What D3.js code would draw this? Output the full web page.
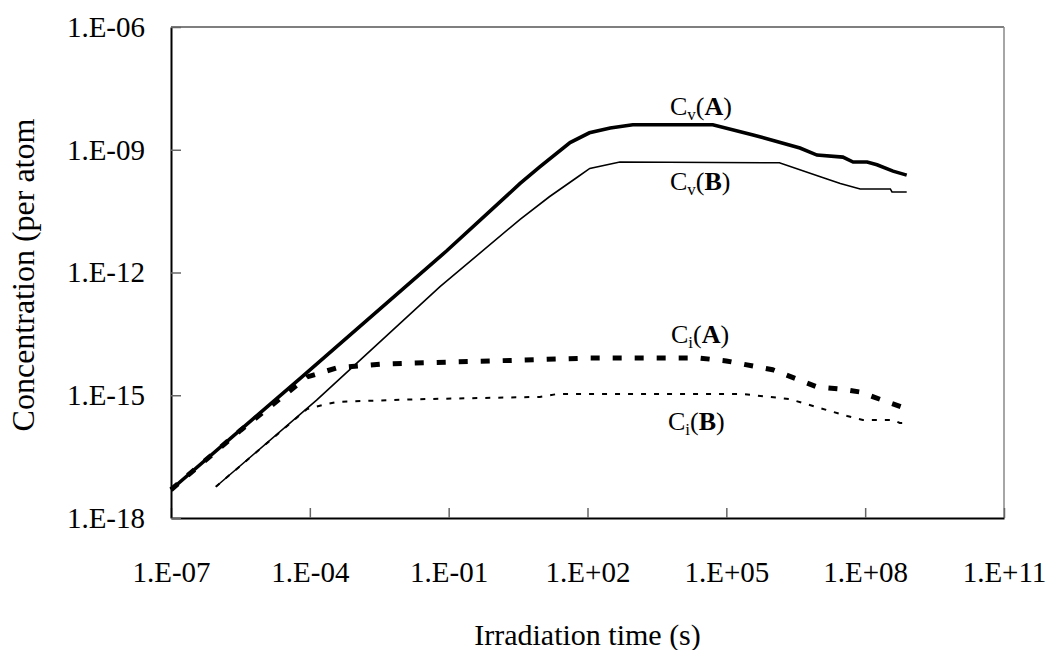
<!DOCTYPE html>
<html>
<head>
<meta charset="utf-8">
<script src="https://cdn.jsdelivr.net/npm/d3@7"></script>
<style>
  body { margin: 0; background: #fff; }
  svg text { font-family: "Liberation Serif", "Times New Roman", serif; fill: #000; }
  .axis text { font-size: 29px; }
  .axis .domain { stroke: #000; stroke-width: 2; }
  .axis .tick line { stroke: #666; stroke-width: 1.5; }
</style>
</head>
<body>
<div id="chart"></div>
<script>
// x ticks (time, s) and y ticks (concentration per atom)
var xTickValues = [1e-7, 1e-4, 1e-1, 1e2, 1e5, 1e8, 1e11];
var xTickLabels = ["1.E-07", "1.E-04", "1.E-01", "1.E+02", "1.E+05", "1.E+08", "1.E+11"];
var yTickValues = [1e-18, 1e-15, 1e-12, 1e-9, 1e-6];
var yTickLabels = ["1.E-18", "1.E-15", "1.E-12", "1.E-09", "1.E-06"];

// series: [time, concentration]
var cvA = [
  [1e-7, 4.9e-18], [6.2e-5, 2.6e-15], [9.1e-2, 3.4e-12], [3.5, 1.5e-10],
  [9.3, 3.8e-10], [42, 1.5e-9], [110, 2.6e-9], [310, 3.4e-9], [950, 4.1e-9],
  [5.1e4, 4.1e-9], [3.8e5, 2.3e-9], [3.9e6, 1.1e-9], [9.1e6, 7.4e-10],
  [3.3e7, 6.6e-10], [5.5e7, 5.0e-10], [1.1e8, 5.0e-10], [1.8e8, 4.3e-10],
  [4.0e8, 3.0e-10], [7.9e8, 2.4e-10]
];
var cvB = [
  [9.3e-7, 5.8e-18], [1.4e-4, 7.6e-16], [6.5e-2, 4.5e-13], [3.5, 2.0e-11],
  [15, 7.1e-11], [59, 2.1e-10], [112, 3.5e-10], [500, 5.0e-10], [1.4e6, 4.8e-10],
  [1.2e7, 2.1e-10], [2.9e7, 1.5e-10], [7.8e7, 1.1e-10], [3.5e8, 1.1e-10],
  [3.8e8, 9.3e-11], [7.9e8, 9.3e-11]
];
var ciA = [
  [1e-7, 4.9e-18], [3.2e-6, 1.4e-16], [8.7e-5, 2.8e-15], [3.9e-4, 4.7e-15],
  [3.8e-3, 5.8e-15], [0.11, 6.5e-15], [3.5, 7.2e-15], [100, 8.1e-15],
  [2.7e4, 8.1e-15], [1.0e5, 6.9e-15], [1.0e6, 4.2e-15], [9.1e6, 1.6e-15],
  [3.3e7, 1.4e-15], [7.8e7, 1.2e-15], [1.5e8, 9.1e-16], [7.1e8, 4.9e-16]
];
var ciB = [
  [9.3e-7, 5.8e-18], [8.7e-5, 4.6e-16], [1.9e-4, 5.8e-16], [3.9e-4, 6.9e-16],
  [3.4e-2, 8.1e-16], [9.3, 9.1e-16], [22, 1.07e-15], [2.3e5, 1.07e-15],
  [2.3e6, 8.1e-16], [9.1e6, 5.1e-16], [4.1e7, 3.1e-16], [8.9e7, 2.5e-16],
  [4.0e8, 2.5e-16], [5.6e8, 2.1e-16], [7.9e8, 2.1e-16]
];

var width = 1047, height = 650;
var margin = { top: 27, right: 43, bottom: 132, left: 171 };
var innerW = width - margin.left - margin.right;
var innerH = height - margin.top - margin.bottom;

var svg = d3.select("#chart").append("svg")
    .attr("width", width)
    .attr("height", height);
var g = svg.append("g")
    .attr("transform", "translate(" + margin.left + "," + margin.top + ")");

var x = d3.scaleLog().domain([1e-7, 1e11]).range([0, innerW]);
var y = d3.scaleLog().domain([1e-18, 1e-6]).range([innerH, 0]);

// plot frame: top black thin, right grey
g.append("line")
    .attr("x1", 0).attr("x2", innerW).attr("y1", 0).attr("y2", 0)
    .attr("stroke", "#000").attr("stroke-width", 1.2);
g.append("line")
    .attr("x1", innerW).attr("x2", innerW).attr("y1", 0).attr("y2", innerH)
    .attr("stroke", "#888").attr("stroke-width", 1.5);

// axes, ticks pointing inward
g.append("g")
    .attr("class", "axis")
    .attr("transform", "translate(0," + innerH + ")")
    .call(d3.axisBottom(x)
        .tickValues(xTickValues)
        .tickFormat(function(d, i) { return xTickLabels[i]; })
        .tickSize(-10)
        .tickSizeOuter(0)
        .tickPadding(43));

g.append("g")
    .attr("class", "axis")
    .call(d3.axisLeft(y)
        .tickValues(yTickValues)
        .tickFormat(function(d, i) { return yTickLabels[i]; })
        .tickSize(-10)
        .tickSizeOuter(0)
        .tickPadding(26));

var line = d3.line()
    .x(function(d) { return x(d[0]); })
    .y(function(d) { return y(d[1]); });

g.append("path").datum(cvB)
    .attr("fill", "none").attr("stroke", "#000").attr("stroke-width", 1.6)
    .attr("d", line);
g.append("path").datum(ciB)
    .attr("fill", "none").attr("stroke", "#000").attr("stroke-width", 2)
    .attr("stroke-dasharray", "5,8")
    .attr("d", line);
g.append("path").datum(cvA)
    .attr("fill", "none").attr("stroke", "#000").attr("stroke-width", 3.6)
    .attr("d", line);
g.append("path").datum(ciA)
    .attr("fill", "none").attr("stroke", "#000").attr("stroke-width", 5)
    .attr("stroke-dasharray", "9,13")
    .attr("d", line);

// series labels
var labels = [
  { sub: "v", tag: "A", x: 670, y: 115 },
  { sub: "v", tag: "B", x: 670, y: 190 },
  { sub: "i", tag: "A", x: 671, y: 343 },
  { sub: "i", tag: "B", x: 668, y: 430 }
];
labels.forEach(function(l) {
  var t = svg.append("text")
      .attr("x", l.x).attr("y", l.y)
      .style("font-size", "26px");
  t.append("tspan").text("C");
  t.append("tspan").attr("dy", 5).style("font-size", "17px").text(l.sub);
  t.append("tspan").attr("dy", -5).text("(");
  t.append("tspan").style("font-weight", "bold").text(l.tag);
  t.append("tspan").text(")");
});

// axis titles
svg.append("text")
    .attr("x", margin.left + innerW / 2)
    .attr("y", 645)
    .style("text-anchor", "middle")
    .style("font-size", "30px")
    .text("Irradiation time (s)");

svg.append("text")
    .attr("transform", "translate(34,275) rotate(-90)")
    .style("text-anchor", "middle")
    .style("font-size", "32px")
    .text("Concentration (per atom");
</script>
</body>
</html>
